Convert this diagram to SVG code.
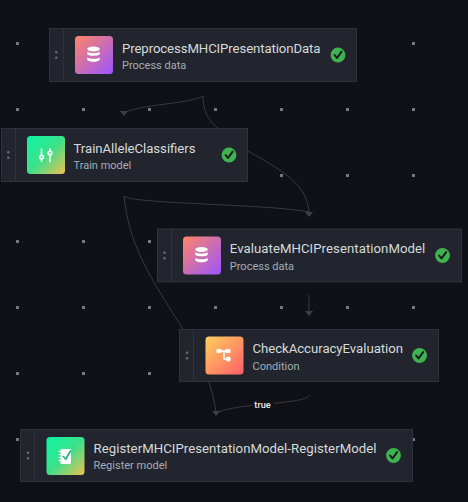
<svg xmlns="http://www.w3.org/2000/svg" width="468" height="502" viewBox="0 0 468 502">
<style>
.n{fill:#22252e;stroke:#2f323b;stroke-width:1}
.d{stroke:#2f323b;stroke-width:1}
.t{font:400 13.200px Roboto,"Noto Sans",sans-serif;fill:#d5dbdb}
.s{font:400 11px Roboto,"Noto Sans",sans-serif;fill:#a5aeb4}
.c{fill:none;stroke:#373943;stroke-width:1}
.a{fill:#3d3f48}
.k{fill:#3fb34f}
.m{fill:none;stroke:#16191f;stroke-width:2;stroke-linecap:round;stroke-linejoin:round}
.w{fill:none;stroke:#fff;stroke-width:1.600;stroke-linecap:round;stroke-linejoin:round}
.f{fill:#fff}
.g{fill:#6b6e76}
</style>
<defs>
<linearGradient id="gp" x1="0" y1="0" x2="1" y2="1"><stop offset="0" stop-color="#ff8566"/><stop offset="1" stop-color="#9a55ff"/></linearGradient>
<linearGradient id="gg" x1="0" y1="0" x2="1" y2="1"><stop offset="0" stop-color="#0af5a5"/><stop offset="0.5" stop-color="#3de08a"/><stop offset="1" stop-color="#f0c04e"/></linearGradient>
<linearGradient id="go" x1="0" y1="0" x2="1" y2="1"><stop offset="0" stop-color="#ffcf5c"/><stop offset="1" stop-color="#ff5f6a"/></linearGradient>
<g id="db"><ellipse cx="0" cy="-6" rx="6.200" ry="2.600" class="f"/><path class="f" d="M-6.200-3.200C-4-1.400 4-1.400 6.200-3.200V-.6C4 1.200-4 1.200-6.200-.6Z"/><path class="f" d="M-6.200 2.400C-4 4.200 4 4.200 6.200 2.400V5C4 7.400-4 7.400-6.200 5Z"/></g>
<g id="ok"><circle r="7.400" class="k"/><path class="m" d="M-3.400 0L-1 3L3.600-3.400"/></g>
<g id="hd"><circle cx="0" cy="-2.800" r="1.200" class="g"/><circle cx="0" cy="2.800" r="1.200" class="g"/></g>
<pattern id="dots" x="0" y="0" width="66" height="66" patternUnits="userSpaceOnUse"><rect x="16" y="42" width="3" height="3" fill="#77787e"/></pattern>
</defs>
<rect width="468" height="502" fill="#101116"/>
<rect width="468" height="502" fill="url(#dots)"/>
<g id="connectors">
<path class="c" d="M203 96C190 104 140 104 124 113"/>
<path class="c" d="M203 96C203 120 215 128 248 151C285 172 307 185 309 212"/>
<path class="c" d="M124 196C130 204 270 204 309 212"/>
<path class="c" d="M124 196C132 285 205 330 216 412"/>
<path class="c" d="M309 295V315"/>
<path class="c" d="M310 395C305 405 240 402 216 413"/>
<path class="a" d="M120 111H128L124 116Z"/>
<path class="a" d="M305 212H313L309 217Z"/>
<path class="a" d="M305 311H313L309 316Z"/>
<path class="a" d="M212 411H220L216 416Z"/>
<rect x="252" y="398" width="22" height="13" fill="#101116"/>
<text x="262.500" y="408" text-anchor="middle" style="font:500 9.200px Roboto,sans-serif;fill:#eaeded">true</text>
</g>
<g id="n1"><rect class="n" x="49.500" y="28.500" width="307" height="53"/><path class="d" d="M63.500 28.500V81.500"/><use href="#hd" x="56.300" y="55"/><rect x="75" y="36" width="38" height="38" rx="3.500" fill="url(#gp)"/><use href="#db" x="93.500" y="55"/><text class="t" x="122" y="52.500" textLength="198.500">PreprocessMHCIPresentationData</text><text class="s" x="122" y="69">Process data</text><use href="#ok" x="338" y="55"/></g>
<g id="n2"><rect class="n" x="1.500" y="128.500" width="246" height="53"/><path class="d" d="M15.500 128.500V181.500"/><use href="#hd" x="8.300" y="155"/><rect x="27" y="136" width="38" height="38" rx="3.500" fill="url(#gg)"/><path class="w" d="M41.500 149V161.500M50 149V161.500"/><circle class="f" cx="41.500" cy="157" r="2.600"/><circle class="f" cx="50" cy="153" r="2.600"/><circle fill="#3ed98b" cx="41.500" cy="157" r=".9"/><circle fill="#3ed98b" cx="50" cy="153" r=".9"/><text class="t" x="73.500" y="152.500" textLength="122">TrainAlleleClassifiers</text><text class="s" x="73.500" y="169">Train model</text><use href="#ok" x="229" y="155"/></g>
<g id="n3"><rect class="n" x="157.500" y="229" width="304" height="53"/><path class="d" d="M171.500 229V282"/><use href="#hd" x="164.500" y="255.500"/><rect x="183" y="236.500" width="38" height="38" rx="3.500" fill="url(#gp)"/><use href="#db" x="201.500" y="255.500"/><text class="t" x="229.800" y="252.500" textLength="195.500">EvaluateMHCIPresentationModel</text><text class="s" x="229.800" y="269.500">Process data</text><use href="#ok" x="442.500" y="255.500"/></g>
<g id="n4"><rect class="n" x="179.500" y="329.500" width="259" height="52"/><path class="d" d="M193.500 329.500V381.500"/><use href="#hd" x="187" y="355.500"/><rect x="205.500" y="336.500" width="38" height="38" rx="3.500" fill="url(#go)"/><path class="w" d="M219 351H228M224 351V359H228"/><rect class="f" x="216.500" y="349" width="5" height="4" rx=".8"/><rect class="f" x="225.500" y="349" width="5" height="4" rx=".8"/><circle class="f" cx="228.300" cy="359" r="2.500"/><text class="t" x="252.500" y="352.500" textLength="150.500">CheckAccuracyEvaluation</text><text class="s" x="252.500" y="369.500">Condition</text><use href="#ok" x="419.500" y="355.500"/></g>
<g id="n5"><rect class="n" x="20.500" y="429.500" width="392" height="52"/><path class="d" d="M34.500 429.500V481.500"/><use href="#hd" x="28" y="455.500"/><rect x="46.500" y="437" width="38" height="38" rx="3.500" fill="url(#gg)"/><rect class="f" x="60.500" y="449" width="10.500" height="15" rx=".8"/><path d="M58.500 451.500H61M58.500 454.500H61M58.500 457.500H61M58.500 460.500H61" stroke="#fff" stroke-width="1.200"/><path d="M62.800 456L65.800 459L70.800 450.500" fill="none" stroke="#25b87a" stroke-width="1.700"/><text class="t" x="93.500" y="452.500" textLength="283">RegisterMHCIPresentationModel-RegisterModel</text><text class="s" x="93.500" y="469">Register model</text><use href="#ok" x="393.500" y="455.500"/></g>
</svg>
